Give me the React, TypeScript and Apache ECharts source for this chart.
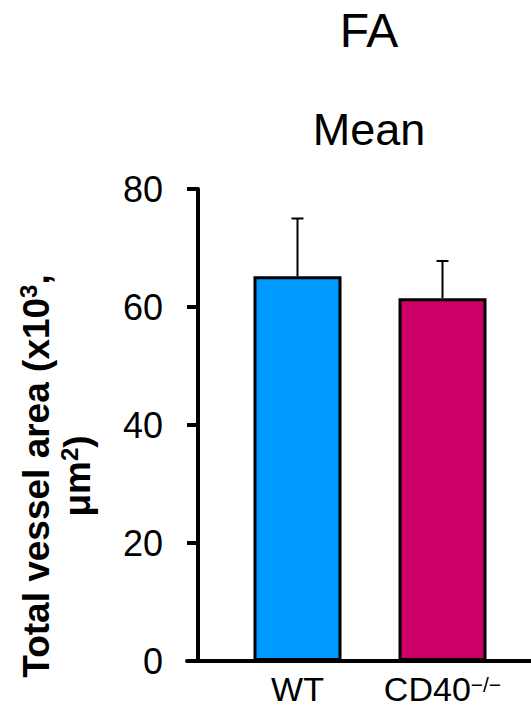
import React, { useEffect, useRef } from 'react';
import * as echarts from 'echarts';

const categories = ['WT', 'CD40'];
const categorySuperscripts = ['', '−/−'];
const meanValues = [65.2, 61.5];
const upperErrorValues = [75.0, 67.8];
const barColors = ['#0099FF', '#CC0066'];
const yMin = 0;
const yMax = 80;
const yInterval = 20;
const titleText = 'FA';
const subtitleText = 'Mean';
const yAxisNameLine1 = 'Total vessel area (x10';
const yAxisNameSup1 = '3';
const yAxisNameLine1End = ',';
const yAxisNameLine2 = 'μm';
const yAxisNameSup2 = '2';
const yAxisNameLine2End = ')';

const FONT = '"Liberation Sans", Arial, Helvetica, sans-serif';

export default function App() {
  const ref = useRef<HTMLDivElement>(null);

  useEffect(() => {
    const chart = echarts.init(ref.current as HTMLDivElement, null, { renderer: 'svg' });
    const yName =
      `{b|${yAxisNameLine1}}{s|${yAxisNameSup1}}{b|${yAxisNameLine1End}}\n` +
      `{b|${yAxisNameLine2}}{s|${yAxisNameSup2}}{b|${yAxisNameLine2End}}`;
    const option: any = {
      animation: false,
      backgroundColor: '#ffffff',
      title: [
        {
          text: titleText,
          left: 369,
          top: 6,
          textAlign: 'center',
          padding: 0,
          textStyle: { fontFamily: FONT, fontSize: 48, fontWeight: 'normal', color: '#000' },
        },
        {
          text: subtitleText,
          left: 369,
          top: 107,
          textAlign: 'center',
          padding: 0,
          textStyle: { fontFamily: FONT, fontSize: 45, fontWeight: 'normal', color: '#000' },
        },
      ],
      graphic: [
        {
          type: 'text',
          x: 57,
          y: 476,
          rotation: Math.PI / 2,
          style: {
            text: yName,
            fontFamily: FONT,
            fontSize: 37,
            fontWeight: 'bold',
            fill: '#000',
            align: 'center',
            verticalAlign: 'middle',
            textAlign: 'center',
            textVerticalAlign: 'middle',
            rich: {
              b: { fontFamily: FONT, fontSize: 37, fontWeight: 'bold', fill: '#000', color: '#000', lineHeight: 41 },
              s: {
                fontFamily: FONT,
                fontSize: 24,
                fontWeight: 'bold',
                fill: '#000',
                color: '#000',
                lineHeight: 41,
                verticalAlign: 'top',
              },
            },
          },
        },
      ],
      grid: [
        { left: 225, width: 290, top: 189, height: 472 },
        { left: 187, right: 0, top: 189, height: 472 },
      ],
      xAxis: [
        {
          type: 'category',
          gridIndex: 0,
          data: categories,
          axisLine: { show: false },
          axisTick: { show: false },
          splitLine: { show: false },
          axisLabel: {
            interval: 0,
            hideOverlap: false,
            fontFamily: FONT,
            fontSize: 34,
            color: '#000',
            margin: 13,
            formatter: (v: string, i: number) =>
              categorySuperscripts[i] ? `{m|${v}}{sup|${categorySuperscripts[i]}}` : `{m|${v}}`,
            rich: {
              m: { fontFamily: FONT, fontSize: 34, color: '#000', lineHeight: 30 },
              sup: { fontFamily: FONT, fontSize: 21, color: '#000', lineHeight: 14, verticalAlign: 'top' },
            },
          },
        },
        {
          type: 'value',
          gridIndex: 1,
          min: 0,
          max: 1,
          axisLine: { show: true, lineStyle: { color: '#000', width: 4 } },
          axisTick: { show: false },
          axisLabel: { show: false },
          splitLine: { show: false },
        },
      ],
      yAxis: [
        {
          type: 'value',
          gridIndex: 0,
          min: yMin,
          max: yMax,
          interval: yInterval,
          offset: 27,
          axisLine: { show: true, lineStyle: { color: '#000', width: 4 } },
          axisTick: { show: true, length: 11, lineStyle: { color: '#000', width: 4 } },
          axisLabel: { fontFamily: FONT, fontSize: 36, color: '#000', margin: 35 },
          splitLine: { show: false },
        },
        {
          type: 'value',
          gridIndex: 1,
          min: yMin,
          max: yMax,
          show: false,
        },
      ],
      series: [
        {
          type: 'bar',
          xAxisIndex: 0,
          yAxisIndex: 0,
          barWidth: 88,
          z: 2,
          data: meanValues.map((v, i) => ({ value: v, itemStyle: { color: barColors[i] } })),
          itemStyle: { borderColor: '#000', borderWidth: 3 },
        },
        {
          type: 'custom',
          xAxisIndex: 0,
          yAxisIndex: 0,
          z: 1,
          data: meanValues.map((v, i) => [i, v, upperErrorValues[i]]),
          renderItem: (params: any, api: any) => {
            const base = api.coord([api.value(0), api.value(1)]);
            const top = api.coord([api.value(0), api.value(2)]);
            const half = 6;
            return {
              type: 'group',
              children: [
                {
                  type: 'line',
                  shape: { x1: base[0], y1: base[1], x2: top[0], y2: top[1] },
                  style: { stroke: '#000', lineWidth: 2 },
                },
                {
                  type: 'line',
                  shape: { x1: top[0] - half, y1: top[1], x2: top[0] + half, y2: top[1] },
                  style: { stroke: '#000', lineWidth: 2 },
                },
              ],
            };
          },
        },
      ],
    };
    chart.setOption(option);
    return () => {
      chart.dispose();
    };
  }, []);

  return (
    <div
      ref={ref}
      style={{ position: 'absolute', left: 0, top: 0, width: 531, height: 708 }}
    />
  );
}
